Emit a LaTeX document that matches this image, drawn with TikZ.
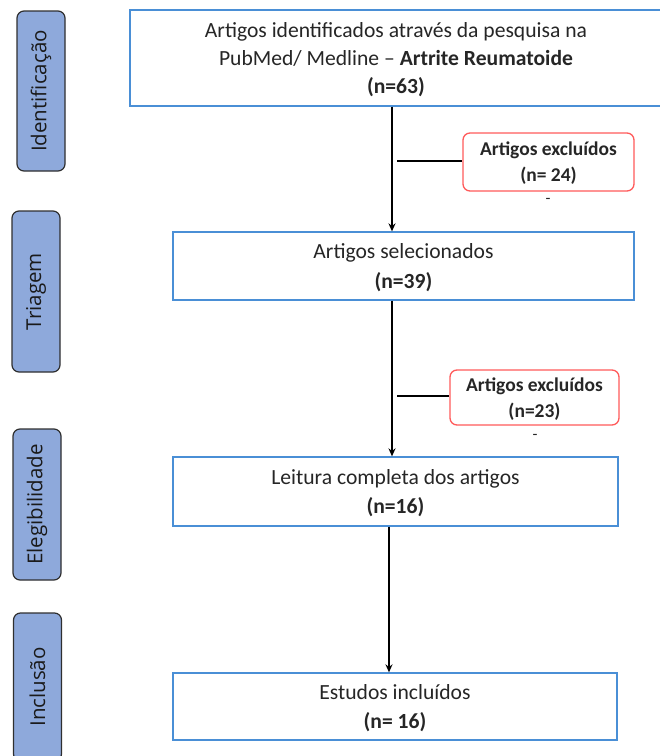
\documentclass[tikz,border=0pt]{standalone}
\usepackage{fontspec}
\setmainfont{Carlito}
\newfontfamily\stagefont{Open Sans}
\usetikzlibrary{arrows.meta}
\definecolor{barfill}{HTML}{8EA9DB}
\definecolor{barline}{HTML}{2F2F2F}
\definecolor{boxline}{HTML}{4A8FD6}
\definecolor{exline}{HTML}{FF5A5A}
\definecolor{txt}{HTML}{262626}
\definecolor{stagetxt}{HTML}{1A1A1A}
\begin{document}
\begin{tikzpicture}[x=1pt,y=-1pt,
  stagebar/.style={draw=barline, fill=barfill, line width=1.2pt, rounded corners=7pt,
    rotate=90, minimum height=48pt, inner sep=0pt, text=stagetxt,
    font=\stagefont\fontsize{20.5}{24}\selectfont},
  mainbox/.style={draw=boxline, line width=1.3pt, fill=white, align=center, inner sep=0pt,
    text=txt, text depth=0pt, font=\fontsize{21.6}{28}\selectfont},
  twoline/.style={font=\fontsize{21.6}{29.5}\selectfont},
  exbox/.style={draw=exline, line width=1.3pt, fill=white, rounded corners=7pt, align=center,
    inner sep=0pt, text=txt, text depth=-3pt, font=\bfseries\fontsize{19.5}{26}\selectfont},
  dashmark/.style={text=txt, font=\fontsize{16}{18}\selectfont, inner sep=0pt},
  flow/.style={line width=1.8pt, -{Stealth[length=8pt,width=7pt]}},
  branch/.style={line width=1.8pt}]
\useasboundingbox (0,0) rectangle (660,756);

% stage bars on the left
\node[stagebar, minimum width=160pt] (sIdent) at (41,91) {Identificação};
\node[stagebar, minimum width=161pt] (sTri) at (36,291.5) {Triagem};
\node[stagebar, minimum width=151pt] (sEleg) at (37,504.5) {Elegibilidade};
\node[stagebar, minimum width=148pt] (sInc) at (37.5,687) {Inclusão};

% main flow boxes
\node[mainbox, minimum width=532pt, minimum height=96pt] (b1) at (396,58)
  {Artigos identificados através da pesquisa na\\
   PubMed/ Medline -- \textbf{Artrite Reumatoide}\\
   \textbf{(n=63)}};
\node[mainbox, twoline, minimum width=461pt, minimum height=68pt] (b2) at (403.5,266)
  {Artigos selecionados\\ \textbf{(n=39)}};
\node[mainbox, twoline, minimum width=445pt, minimum height=69pt] (b3) at (395.5,491.5)
  {Leitura completa dos artigos\\ \textbf{(n=16)}};
\node[mainbox, twoline, minimum width=444pt, minimum height=67pt] (b4) at (395,706.5)
  {Estudos incluídos\\ \textbf{(n= 16)}};

% exclusion boxes
\node[exbox, minimum width=171pt, minimum height=58pt] (ex1) at (548.5,162)
  {Artigos excluídos\\ (n= 24)};
\node[exbox, minimum width=169pt, minimum height=55pt] (ex2) at (534.5,397.5)
  {Artigos excluídos\\ (n=23)};
\node[dashmark] (d1) at (548,201) {-};
\node[dashmark] (d2) at (535,437) {-};

% connectors
\coordinate (ax) at (392,0);
\coordinate (axl) at (389,0);
\coordinate (br1) at (397,161);
\coordinate (br2) at (397,396);
\draw[flow] (b1.south -| ax) -- (b2.north -| ax);
\draw[flow] (b2.south -| ax) -- (b3.north -| ax);
\draw[flow] (b3.south -| axl) -- (b4.north -| axl);
\draw[branch] (br1) -- (ex1.west |- br1);
\draw[branch] (br2) -- (ex2.west |- br2);
\end{tikzpicture}
\end{document}
